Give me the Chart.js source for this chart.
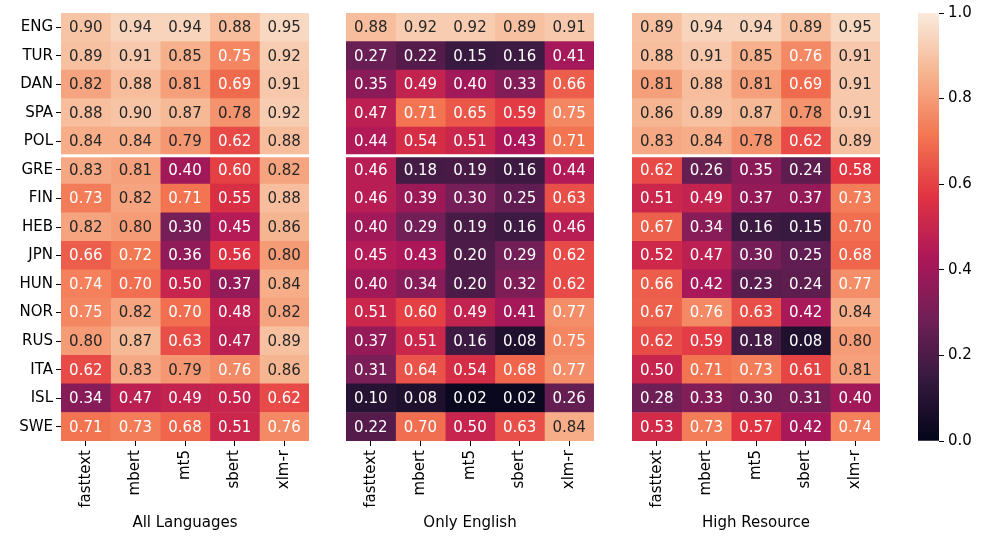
<!DOCTYPE html>
<html lang="en">
<head>
    <meta charset="UTF-8">
    <title>Heatmaps</title>
    <script src="https://cdn.jsdelivr.net/npm/chart.js"></script>
    <style>
        body {
            margin: 0;
            background: white;
            width: 983px;
            height: 536px;
            position: relative;
            overflow: hidden;
        }
        canvas {
            position: absolute;
            top: 0;
        }
    </style>
</head>
<body>
    <canvas id="allChart" width="320" height="536" style="left:0px"></canvas>
    <canvas id="engChart" width="275" height="536" style="left:330px"></canvas>
    <canvas id="highChart" width="275" height="536" style="left:615px"></canvas>
    <canvas id="cbarChart" width="88" height="536" style="left:895px"></canvas>

    <script>
        const languages = ['ENG', 'TUR', 'DAN', 'SPA', 'POL', 'GRE', 'FIN', 'HEB', 'JPN', 'HUN', 'NOR', 'RUS', 'ITA', 'ISL', 'SWE'];
        const models = ['fasttext', 'mbert', 'mt5', 'sbert', 'xlm-r'];

        const allLanguages = [
            [0.90, 0.94, 0.94, 0.88, 0.95],
            [0.89, 0.91, 0.85, 0.75, 0.92],
            [0.82, 0.88, 0.81, 0.69, 0.91],
            [0.88, 0.90, 0.87, 0.78, 0.92],
            [0.84, 0.84, 0.79, 0.62, 0.88],
            [0.83, 0.81, 0.40, 0.60, 0.82],
            [0.73, 0.82, 0.71, 0.55, 0.88],
            [0.82, 0.80, 0.30, 0.45, 0.86],
            [0.66, 0.72, 0.36, 0.56, 0.80],
            [0.74, 0.70, 0.50, 0.37, 0.84],
            [0.75, 0.82, 0.70, 0.48, 0.82],
            [0.80, 0.87, 0.63, 0.47, 0.89],
            [0.62, 0.83, 0.79, 0.76, 0.86],
            [0.34, 0.47, 0.49, 0.50, 0.62],
            [0.71, 0.73, 0.68, 0.51, 0.76]
        ];

        const onlyEnglish = [
            [0.88, 0.92, 0.92, 0.89, 0.91],
            [0.27, 0.22, 0.15, 0.16, 0.41],
            [0.35, 0.49, 0.40, 0.33, 0.66],
            [0.47, 0.71, 0.65, 0.59, 0.75],
            [0.44, 0.54, 0.51, 0.43, 0.71],
            [0.46, 0.18, 0.19, 0.16, 0.44],
            [0.46, 0.39, 0.30, 0.25, 0.63],
            [0.40, 0.29, 0.19, 0.16, 0.46],
            [0.45, 0.43, 0.20, 0.29, 0.62],
            [0.40, 0.34, 0.20, 0.32, 0.62],
            [0.51, 0.60, 0.49, 0.41, 0.77],
            [0.37, 0.51, 0.16, 0.08, 0.75],
            [0.31, 0.64, 0.54, 0.68, 0.77],
            [0.10, 0.08, 0.02, 0.02, 0.26],
            [0.22, 0.70, 0.50, 0.63, 0.84]
        ];

        const highResource = [
            [0.89, 0.94, 0.94, 0.89, 0.95],
            [0.88, 0.91, 0.85, 0.76, 0.91],
            [0.81, 0.88, 0.81, 0.69, 0.91],
            [0.86, 0.89, 0.87, 0.78, 0.91],
            [0.83, 0.84, 0.78, 0.62, 0.89],
            [0.62, 0.26, 0.35, 0.24, 0.58],
            [0.51, 0.49, 0.37, 0.37, 0.73],
            [0.67, 0.34, 0.16, 0.15, 0.70],
            [0.52, 0.47, 0.30, 0.25, 0.68],
            [0.66, 0.42, 0.23, 0.24, 0.77],
            [0.67, 0.76, 0.63, 0.42, 0.84],
            [0.62, 0.59, 0.18, 0.08, 0.80],
            [0.50, 0.71, 0.73, 0.61, 0.81],
            [0.28, 0.33, 0.30, 0.31, 0.40],
            [0.53, 0.73, 0.57, 0.42, 0.74]
        ];

        const colorbarRange = [0, 1];
        const highResourceCount = 5; // white line after the first 5 languages

        // approximate seaborn "rocket" colormap
        const rocketStops = [
            [0.000, [3, 5, 26]],
            [0.143, [53, 25, 62]],
            [0.286, [112, 31, 87]],
            [0.429, [173, 23, 89]],
            [0.571, [225, 51, 66]],
            [0.714, [243, 118, 81]],
            [0.857, [246, 180, 143]],
            [1.000, [250, 235, 221]]
        ];

        function rocketRGB(v) {
            v = Math.max(0, Math.min(1, v));
            for (let i = 1; i < rocketStops.length; i++) {
                const [p1, c1] = rocketStops[i];
                const [p0, c0] = rocketStops[i - 1];
                if (v <= p1) {
                    const t = (v - p0) / (p1 - p0);
                    return c0.map((c, k) => c + (c1[k] - c) * t);
                }
            }
            return rocketStops[rocketStops.length - 1][1];
        }

        function rocket(v) {
            const c = rocketRGB(v).map(Math.round);
            return `rgb(${c[0]},${c[1]},${c[2]})`;
        }

        // same rule seaborn uses for annotation colour
        function textColor(v) {
            const lin = rocketRGB(v).map(c => {
                c = c / 255;
                return c <= 0.03928 ? c / 12.92 : Math.pow((c + 0.055) / 1.055, 2.4);
            });
            const lum = 0.2126 * lin[0] + 0.7152 * lin[1] + 0.0722 * lin[2];
            return lum > 0.408 ? '#262626' : '#ffffff';
        }

        const font = { family: '"DejaVu Sans"', size: 15 };

        const cellLabels = {
            id: 'cellLabels',
            afterDatasetsDraw(chart) {
                const ctx = chart.ctx;
                ctx.save();
                ctx.font = '15px "DejaVu Sans"';
                ctx.textAlign = 'center';
                ctx.textBaseline = 'middle';
                chart.data.datasets.forEach((ds, i) => {
                    chart.getDatasetMeta(i).data.forEach((bar, j) => {
                        const v = ds.data[j].v;
                        const p = bar.getCenterPoint();
                        ctx.fillStyle = textColor(v);
                        ctx.fillText(v.toFixed(2), p.x, p.y + 1);
                    });
                });
                ctx.restore();
            }
        };

        const splitLine = {
            id: 'splitLine',
            afterDatasetsDraw(chart) {
                const y = chart.scales.y;
                const py = (y.getPixelForValue(highResourceCount - 1) + y.getPixelForValue(highResourceCount)) / 2;
                const ctx = chart.ctx;
                ctx.save();
                ctx.strokeStyle = 'white';
                ctx.lineWidth = 3;
                ctx.beginPath();
                ctx.moveTo(chart.chartArea.left, py);
                ctx.lineTo(chart.chartArea.right, py);
                ctx.stroke();
                ctx.restore();
            }
        };

        function makeHeatmap(id, values, title, showY, padding) {
            const ctx = document.getElementById(id).getContext('2d');
            return new Chart(ctx, {
                type: 'bar',
                data: {
                    labels: languages,
                    datasets: models.map((m, c) => ({
                        label: m,
                        data: languages.map((lang, r) => ({ y: lang, x: [c, c + 1], v: values[r][c] })),
                        backgroundColor: (context) => context.raw ? rocket(context.raw.v) : '#000'
                    }))
                },
                options: {
                    responsive: false,
                    animation: false,
                    indexAxis: 'y',
                    layout: { padding: padding },
                    datasets: {
                        bar: { grouped: false, categoryPercentage: 1, barPercentage: 1, borderWidth: 0 }
                    },
                    plugins: {
                        legend: { display: false },
                        tooltip: { enabled: false }
                    },
                    scales: {
                        x: {
                            type: 'linear',
                            min: 0,
                            max: models.length,
                            afterBuildTicks: (s) => { s.ticks = models.map((m, i) => ({ value: i + 0.5 })); },
                            afterFit: (s) => { s.height = 95; },
                            ticks: {
                                autoSkip: false,
                                minRotation: 90,
                                maxRotation: 90,
                                color: '#000',
                                font: font,
                                padding: 4,
                                callback: (v, i) => models[i]
                            },
                            grid: { drawOnChartArea: false, tickLength: 5, tickColor: '#000' },
                            border: { display: false },
                            title: { display: true, text: title, color: '#000', font: font, padding: { top: 4, bottom: 4 } }
                        },
                        y: {
                            type: 'category',
                            display: showY,
                            afterFit: (s) => { s.width = showY ? 61 : 0; },
                            ticks: { color: '#000', font: font, padding: 3, autoSkip: false },
                            grid: { offset: false, drawOnChartArea: false, tickLength: 5, tickColor: '#000' },
                            border: { display: false }
                        }
                    }
                },
                plugins: [splitLine, cellLabels]
            });
        }

        makeHeatmap('allChart', allLanguages, 'All Languages', true, { left: 0, right: 11, top: 13, bottom: 0 });
        makeHeatmap('engChart', onlyEnglish, 'Only English', false, { left: 16, right: 11, top: 13, bottom: 0 });
        makeHeatmap('highChart', highResource, 'High Resource', false, { left: 17, right: 10, top: 13, bottom: 0 });

        // colour bar
        const cbarCtx = document.getElementById('cbarChart').getContext('2d');
        new Chart(cbarCtx, {
            type: 'bar',
            data: {
                labels: [''],
                datasets: [{
                    data: [colorbarRange],
                    backgroundColor: (context) => {
                        const area = context.chart.chartArea;
                        if (!area) return '#000';
                        const g = context.chart.ctx.createLinearGradient(0, area.bottom, 0, area.top);
                        rocketStops.forEach(([p, c]) => g.addColorStop(p, `rgb(${c[0]},${c[1]},${c[2]})`));
                        return g;
                    }
                }]
            },
            options: {
                responsive: false,
                animation: false,
                layout: { padding: { left: 23, right: 0, top: 13, bottom: 95 } },
                datasets: {
                    bar: { categoryPercentage: 1, barPercentage: 1, borderWidth: 0 }
                },
                plugins: {
                    legend: { display: false },
                    tooltip: { enabled: false }
                },
                scales: {
                    x: { display: false },
                    y: {
                        position: 'right',
                        min: colorbarRange[0],
                        max: colorbarRange[1],
                        afterFit: (s) => { s.width = 44; },
                        ticks: { stepSize: 0.2, color: '#000', font: font, padding: 4, callback: (v) => v.toFixed(1) },
                        grid: { drawOnChartArea: false, tickLength: 5, tickColor: '#000' },
                        border: { display: false }
                    }
                }
            }
        });
    </script>
</body>
</html>
